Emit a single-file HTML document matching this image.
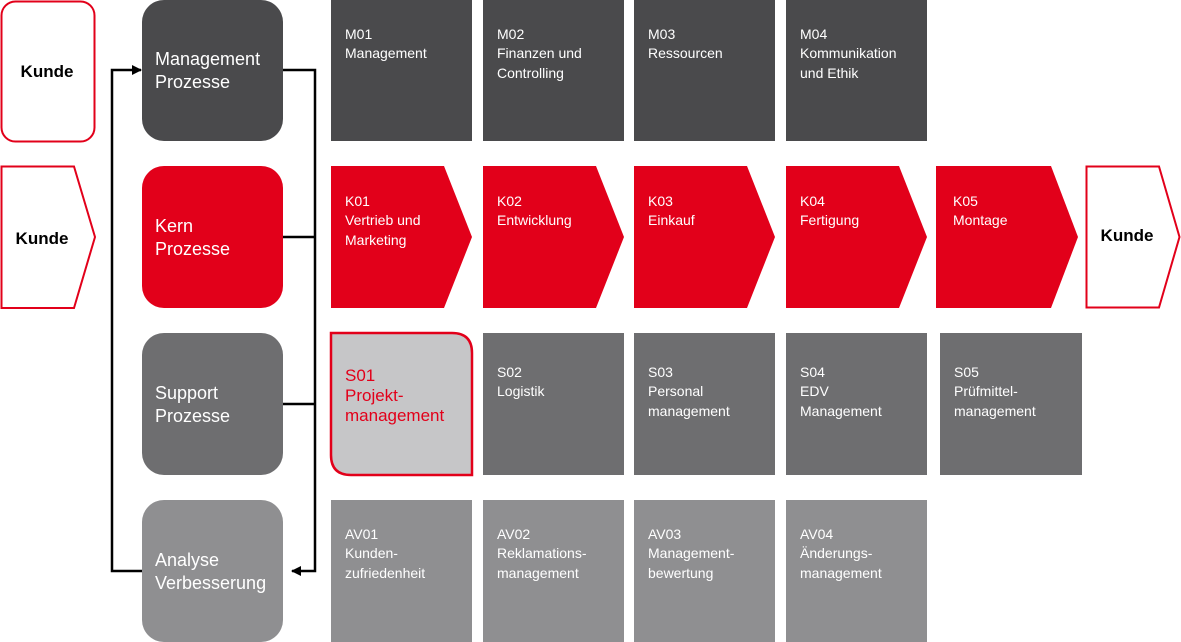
<!DOCTYPE html>
<html><head><meta charset="utf-8"><style>
html,body{margin:0;padding:0;background:#fff;}
svg{display:block;}
text{font-family:"Liberation Sans",sans-serif;}
.t{fill:#fff;font-size:14px;}
.L{fill:#fff;font-size:18px;}
.k{fill:#000;font-size:17px;font-weight:bold;}
</style></head><body>
<svg width="1181" height="642" viewBox="0 0 1181 642" xmlns="http://www.w3.org/2000/svg">
<defs><marker id="ah" markerWidth="10" markerHeight="10" refX="9" refY="5" orient="auto" markerUnits="userSpaceOnUse"><path d="M0,0 L10,5 L0,10 z" fill="#000"/></marker></defs>
<!-- Kunde left -->
<rect x="1.5" y="1.5" width="93" height="140" rx="14" fill="#fff" stroke="#e2001a" stroke-width="2"/>
<text class="k" x="47" y="77" text-anchor="middle">Kunde</text>
<path d="M1.5,166.5 H74 L95,237 L74,308 H1.5 Z" fill="#fff" stroke="#e2001a" stroke-width="2"/>
<text class="k" x="42" y="244" text-anchor="middle">Kunde</text>
<!-- connectors -->
<polyline points="283,70 315,70 315,571 292,571" fill="none" stroke="#000" stroke-width="2.5" marker-end="url(#ah)"/>
<line x1="283" y1="237" x2="315" y2="237" stroke="#000" stroke-width="2.5"/>
<line x1="283" y1="404" x2="315" y2="404" stroke="#000" stroke-width="2.5"/>
<polyline points="142,571 112,571 112,70 141,70" fill="none" stroke="#000" stroke-width="2.5" marker-end="url(#ah)"/>
<!-- left boxes -->
<rect x="142" y="0" width="141" height="141" rx="22" fill="#4a4a4c"/>
<text class="L" x="155" y="65">Management</text><text class="L" x="155" y="88">Prozesse</text>
<rect x="142" y="166" width="141" height="142" rx="22" fill="#e2001a"/>
<text class="L" x="155" y="232">Kern</text><text class="L" x="155" y="255">Prozesse</text>
<rect x="142" y="333" width="141" height="142" rx="22" fill="#6e6e70"/>
<text class="L" x="155" y="399">Support</text><text class="L" x="155" y="422">Prozesse</text>
<rect x="142" y="500" width="141" height="142" rx="22" fill="#8f8f91"/>
<text class="L" x="155" y="566">Analyse</text><text class="L" x="155" y="589">Verbesserung</text>
<!-- M row -->
<rect x="331" y="0" width="141" height="141" fill="#4a4a4c"/>
<rect x="483" y="0" width="141" height="141" fill="#4a4a4c"/>
<rect x="634" y="0" width="141" height="141" fill="#4a4a4c"/>
<rect x="786" y="0" width="141" height="141" fill="#4a4a4c"/>
<text class="t" x="345" y="39">M01</text><text class="t" x="345" y="58">Management</text>
<text class="t" x="497" y="39">M02</text><text class="t" x="497" y="58">Finanzen und</text><text class="t" x="497" y="78">Controlling</text>
<text class="t" x="648" y="39">M03</text><text class="t" x="648" y="58">Ressourcen</text>
<text class="t" x="800" y="39">M04</text><text class="t" x="800" y="58">Kommunikation</text><text class="t" x="800" y="78">und Ethik</text>
<!-- K row -->
<path d="M331,166 H444 L472,237 L444,308 H331 Z" fill="#e2001a"/>
<path d="M483,166 H596 L624,237 L596,308 H483 Z" fill="#e2001a"/>
<path d="M634,166 H747 L775,237 L747,308 H634 Z" fill="#e2001a"/>
<path d="M786,166 H899 L927,237 L899,308 H786 Z" fill="#e2001a"/>
<path d="M936,166 H1051 L1078,237 L1051,308 H936 Z" fill="#e2001a"/>
<text class="t" x="345" y="206">K01</text><text class="t" x="345" y="225">Vertrieb und</text><text class="t" x="345" y="245">Marketing</text>
<text class="t" x="497" y="206">K02</text><text class="t" x="497" y="225">Entwicklung</text>
<text class="t" x="648" y="206">K03</text><text class="t" x="648" y="225">Einkauf</text>
<text class="t" x="800" y="206">K04</text><text class="t" x="800" y="225">Fertigung</text>
<text class="t" x="953" y="206">K05</text><text class="t" x="953" y="225">Montage</text>
<path d="M1086.5,166.5 H1159 L1179.5,237 L1159,307.5 H1086.5 Z" fill="#fff" stroke="#e2001a" stroke-width="2"/>
<text class="k" x="1127" y="241" text-anchor="middle">Kunde</text>
<!-- S row -->
<path d="M331,333 H452 Q472,333 472,353 V475 H351 Q331,475 331,455 Z" fill="#c6c6c8" stroke="#e2001a" stroke-width="2.5"/>
<text x="345" y="381" style="fill:#e2001a;font-size:17px">S01</text>
<text x="345" y="401" style="fill:#e2001a;font-size:17px">Projekt-</text>
<text x="345" y="421" style="fill:#e2001a;font-size:17px">management</text>
<rect x="483" y="333" width="141" height="142" fill="#6e6e70"/>
<rect x="634" y="333" width="141" height="142" fill="#6e6e70"/>
<rect x="786" y="333" width="141" height="142" fill="#6e6e70"/>
<rect x="940" y="333" width="142" height="142" fill="#6e6e70"/>
<text class="t" x="497" y="377">S02</text><text class="t" x="497" y="396">Logistik</text>
<text class="t" x="648" y="377">S03</text><text class="t" x="648" y="396">Personal</text><text class="t" x="648" y="416">management</text>
<text class="t" x="800" y="377">S04</text><text class="t" x="800" y="396">EDV</text><text class="t" x="800" y="416">Management</text>
<text class="t" x="954" y="377">S05</text><text class="t" x="954" y="396">Prüfmittel-</text><text class="t" x="954" y="416">management</text>
<!-- AV row -->
<rect x="331" y="500" width="141" height="142" fill="#8f8f91"/>
<rect x="483" y="500" width="141" height="142" fill="#8f8f91"/>
<rect x="634" y="500" width="141" height="142" fill="#8f8f91"/>
<rect x="786" y="500" width="141" height="142" fill="#8f8f91"/>
<text class="t" x="345" y="539">AV01</text><text class="t" x="345" y="558">Kunden-</text><text class="t" x="345" y="578">zufriedenheit</text>
<text class="t" x="497" y="539">AV02</text><text class="t" x="497" y="558">Reklamations-</text><text class="t" x="497" y="578">management</text>
<text class="t" x="648" y="539">AV03</text><text class="t" x="648" y="558">Management-</text><text class="t" x="648" y="578">bewertung</text>
<text class="t" x="800" y="539">AV04</text><text class="t" x="800" y="558">Änderungs-</text><text class="t" x="800" y="578">management</text>
</svg>
</body></html>
